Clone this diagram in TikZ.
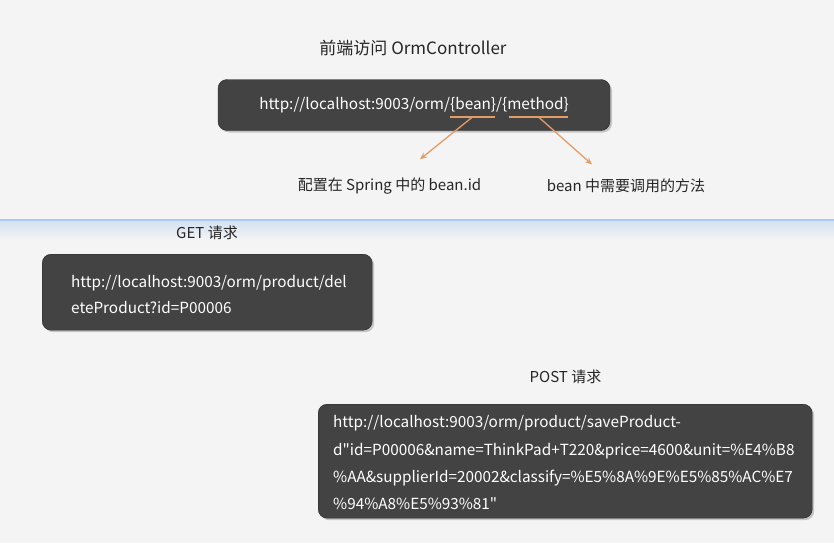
\documentclass[tikz,border=0pt]{standalone}
\usepackage{fontspec}
\setmainfont{Noto Sans CJK SC}[Ligatures=TeXOff]
\usetikzlibrary{shadows,arrows.meta,calc}

\definecolor{bg}{HTML}{F4F4F4}
\definecolor{boxgray}{HTML}{434343}
\definecolor{tan}{HTML}{E39C68}
\definecolor{lineblue}{HTML}{A9C9F0}

\begin{document}
\begin{tikzpicture}[x=1pt,y=-1pt,
  urlbox/.style={draw=black!85, fill=boxgray, rounded corners=9pt, text=white,
    drop shadow={shadow xshift=2pt, shadow yshift=-2pt, opacity=.4}},
  caption/.style={text=black!85, font=\fontsize{15}{18}\selectfont},
  underline/.style={tan, line width=2pt},
  pointer/.style={tan, line width=1.3pt, -{Stealth[length=7pt,width=6pt]}}]
\fill[bg] (0,0) rectangle (834,543);
\useasboundingbox (0,0) rectangle (834,543);

% upper part
\node[caption, font=\fontsize{17}{20}\selectfont] (title) at (413,48) {前端访问 OrmController};
\node[urlbox, minimum width=392pt, minimum height=51pt,
  font=\fontsize{15.3}{18}\selectfont] (pattern) at (414,105)
  {http://localhost:9003/orm/\{bean\}/\{method\}};
\coordinate (beanL) at (450,117);
\coordinate (beanR) at (495,117);
\coordinate (methodL) at (509,117);
\coordinate (methodR) at (568,117);
\draw[underline] (beanL) -- (beanR);
\draw[underline] (methodL) -- (methodR);
\node[caption] (beanlbl) at (389.5,186) {配置在 Spring 中的 bean.id};
\node[caption] (methodlbl) at (626,186) {bean 中需要调用的方法};
\draw[pointer] ($(beanL)!.5!(beanR)$) -- ([xshift=30.5pt,yshift=15pt]beanlbl.north);
\draw[pointer] ($(methodL)!.5!(methodR)$) -- ([xshift=-34pt,yshift=11pt]methodlbl.north);

% separator
\shade[top color=lineblue!45!bg, bottom color=bg] (0,220) rectangle (834,240);
\draw[lineblue, line width=1.5pt] (0,220) -- (834,220);

% GET
\node[caption] (getlbl) at (207,233) {GET 请求};
\node[urlbox, anchor=north west, minimum height=76pt, text width=272pt,
  inner xsep=29pt, align=left, font=\fontsize{15.3}{26}\selectfont] (getbox) at (42,254)
  {\rule{0pt}{17pt}http://localhost:9003/orm/product/del\\eteProduct?id=P00006};

% POST
\node[urlbox, anchor=north west, minimum height=114pt, text width=464pt,
  inner xsep=15pt, align=left, font=\fontsize{15.3}{27.2}\selectfont] (postbox) at (318,404)
  {\rule{0pt}{15pt}http://localhost:9003/orm/product/saveProduct-\\
   d"id=P00006\&name=ThinkPad+T220\&price=4600\&unit=\%E4\%B8\\
   \%AA\&supplierId=20002\&classify=\%E5\%8A\%9E\%E5\%85\%AC\%E7\\
   \%94\%A8\%E5\%93\%81"};
\node[caption] (postlbl) at (565.5,377) {POST 请求};
\end{tikzpicture}
\end{document}
